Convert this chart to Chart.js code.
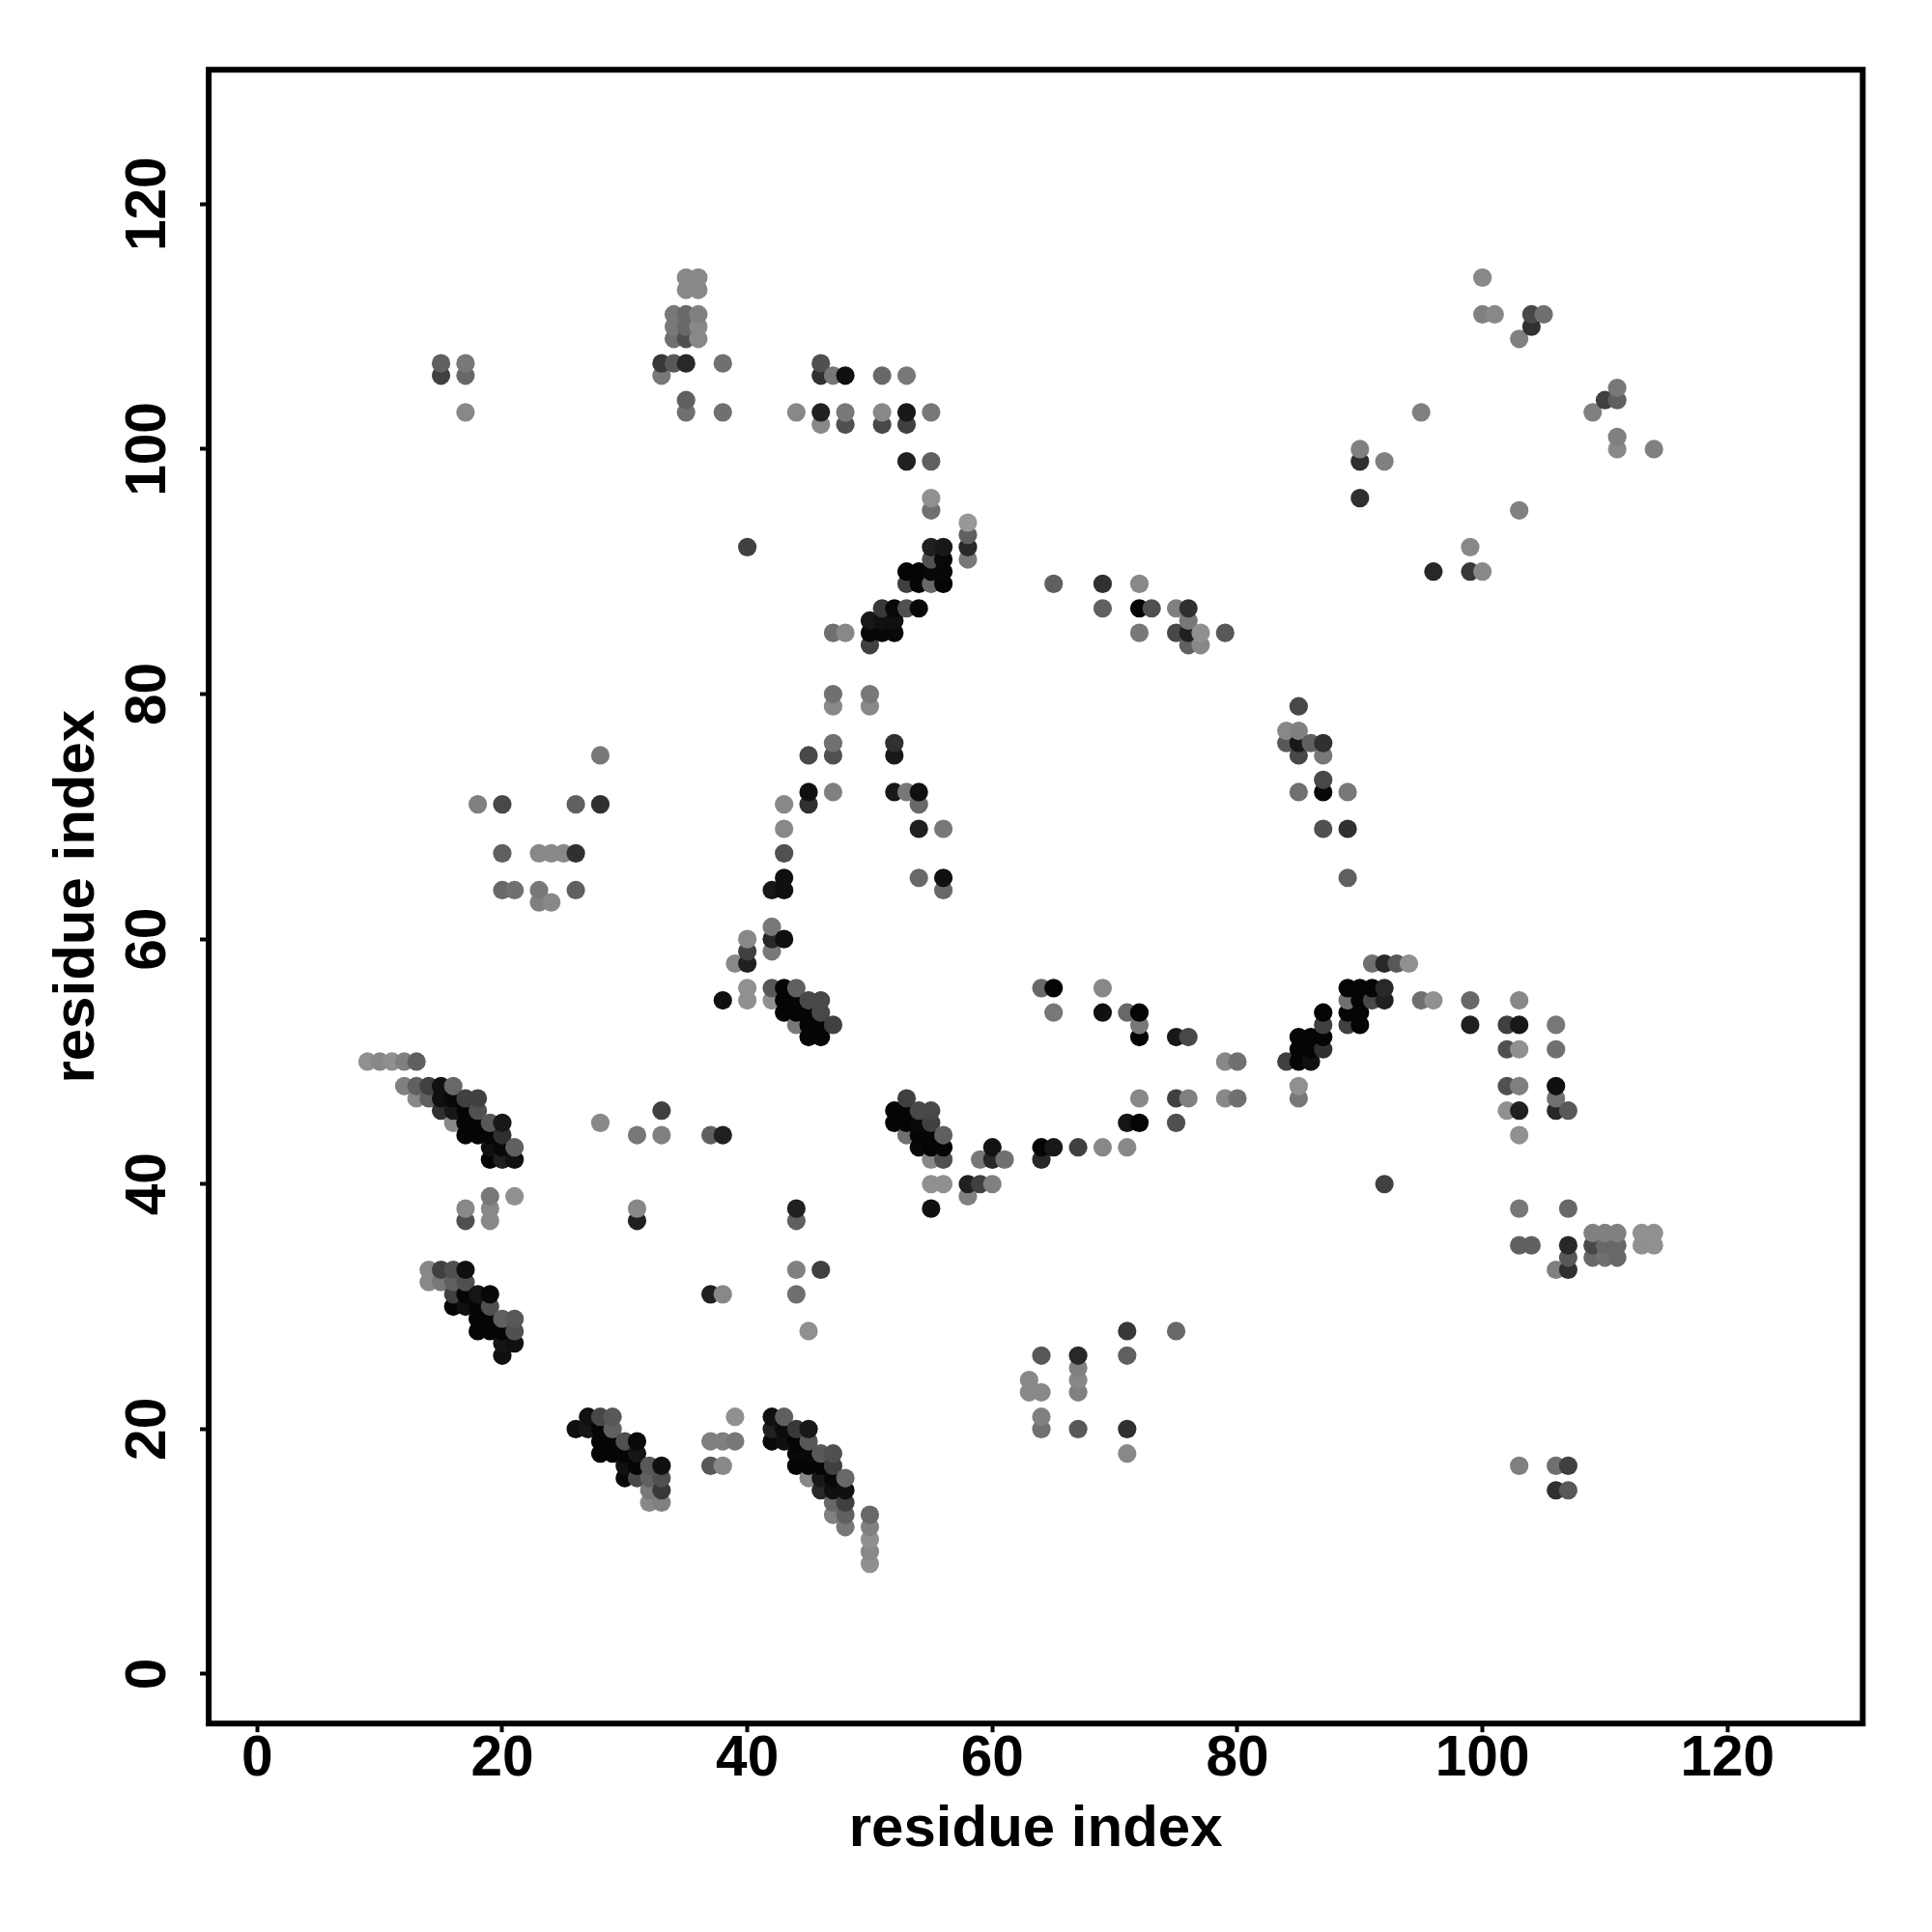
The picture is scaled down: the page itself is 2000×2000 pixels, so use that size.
<!DOCTYPE html>
<html>
<head>
<meta charset="utf-8">
<style>
  html, body { margin: 0; padding: 0; background: #fff; }
  canvas { display: block; }
</style>
<script src="https://cdn.jsdelivr.net/npm/chart.js@4/dist/chart.umd.js"></script>
</head>
<body>
<canvas id="contactMap" width="2000" height="2000"></canvas>
<script>
const tickValues = [0, 20, 40, 60, 80, 100, 120];
const axisTitle = 'residue index';

// one entry per row of the map: y index, the x indices on it, their grey level
const rowY = [114, 113, 111, 110, 109, 107, 106, 105, 104, 103, 102, 101, 100, 99, 96, 95, 94, 93, 92, 91, 90, 89, 87, 86, 85, 84, 80, 79, 77, 76, 75, 73, 72, 71, 69, 67, 65, 64, 63, 61, 60, 59, 58, 56, 55, 54, 53, 52, 51, 50, 48, 47, 46, 45, 44, 43, 42, 40, 39, 38, 37, 36, 35, 34, 33, 32, 31, 30, 29, 28, 27, 26, 25, 24, 23, 21, 20, 19, 18, 17, 16, 15, 14, 13, 12, 11, 10, 9];
const rowX = [
  [35, 36, 100],
  [35, 36],
  [34, 35, 36, 100, 101, 104, 105],
  [34, 35, 36, 104],
  [34, 35, 36, 103],
  [15, 17, 33, 34, 35, 38, 46],
  [15, 17, 33, 46, 47, 48, 51, 53],
  [111],
  [35, 110, 111],
  [17, 35, 38, 44, 46, 48, 51, 53, 55, 95, 109],
  [46, 48, 51, 53],
  [111],
  [90, 111, 114],
  [53, 55, 90, 92],
  [55, 90],
  [55, 103],
  [58],
  [58],
  [40, 55, 56, 58, 99],
  [55, 56, 58],
  [53, 54, 55, 56, 96, 99, 100],
  [53, 54, 55, 56, 65, 69, 72],
  [51, 52, 53, 54, 69, 72, 73, 75, 76],
  [50, 51, 52, 76],
  [47, 48, 50, 51, 52, 72, 75, 76, 77, 79],
  [50, 76, 77],
  [47, 50],
  [47, 50, 85],
  [84, 85],
  [47, 52, 84, 85, 86, 87],
  [28, 45, 47, 52, 85, 87],
  [87],
  [45, 47, 52, 53, 54, 85, 87, 89],
  [18, 20, 26, 28, 43, 45, 54],
  [43, 54, 56, 87, 89],
  [20, 23, 24, 25, 26, 43],
  [43, 54, 56, 89],
  [20, 21, 23, 26, 42, 43, 56],
  [23, 24],
  [42],
  [40, 42, 43],
  [40, 42],
  [39, 40, 91, 92, 93, 94],
  [40, 42, 43, 44, 64, 65, 69, 89, 90, 91, 92],
  [38, 40, 42, 43, 44, 45, 46, 89, 90, 91, 92, 95, 96, 99, 103],
  [43, 44, 45, 46, 65, 69, 71, 72, 87, 89, 90],
  [44, 45, 46, 47, 72, 87, 89, 90, 99, 102, 103, 106],
  [45, 46, 72, 75, 76, 85, 86, 87],
  [85, 86, 87, 102, 103, 106],
  [9, 10, 11, 12, 13, 79, 80, 84, 85, 86],
  [12, 13, 14, 15, 16, 85, 102, 103, 106],
  [13, 14, 15, 16, 17, 18, 53, 72, 75, 76, 79, 80, 85, 106],
  [15, 16, 17, 18, 33, 52, 53, 54, 55, 102, 103, 106, 107],
  [16, 17, 18, 19, 20, 28, 52, 53, 54, 55, 71, 72, 75],
  [17, 18, 19, 20, 31, 33, 37, 38, 53, 54, 55, 56, 103],
  [19, 20, 21, 54, 55, 56, 60, 64, 65, 67, 69, 71],
  [19, 20, 21, 55, 56, 59, 60, 61, 64],
  [55, 56, 58, 59, 60, 92],
  [19, 21, 58],
  [17, 19, 31, 44, 55, 103, 107],
  [17, 19, 31, 44],
  [109, 110, 111, 113, 114],
  [103, 104, 107, 109, 110, 111, 113, 114],
  [107, 109, 110, 111],
  [14, 15, 16, 17, 44, 46, 106, 107],
  [14, 15, 16, 17],
  [16, 17, 18, 19, 37, 38, 44],
  [16, 17, 18, 19],
  [18, 19, 20, 21],
  [18, 19, 20, 21, 45, 71, 75],
  [20, 21],
  [20, 64, 67, 71],
  [67],
  [63, 67],
  [63, 64, 67],
  [27, 28, 29, 39, 42, 43, 64],
  [26, 27, 28, 29, 42, 43, 44, 45, 64, 67, 71],
  [28, 29, 30, 31, 37, 38, 39, 42, 43, 44, 45],
  [28, 29, 30, 31, 44, 45, 46, 47, 71],
  [30, 31, 32, 33, 37, 38, 44, 45, 46, 47, 103, 106, 107],
  [30, 31, 32, 33, 45, 46, 47, 48],
  [32, 33, 46, 47, 48, 106, 107],
  [32, 33, 47, 48],
  [47, 48, 50],
  [48, 50],
  [50],
  [50],
  [50]
];
const rowGrey = [
  [136, 136, 136],
  [136, 136],
  [120, 104, 128, 128, 136, 72, 112],
  [120, 104, 136, 48],
  [112, 80, 136, 128],
  [96, 120, 56, 88, 40, 112, 80],
  [64, 104, 120, 48, 120, 16, 104, 120],
  [120],
  [96, 64, 96],
  [136, 112, 112, 136, 32, 120, 136, 24, 120, 128, 128],
  [136, 80, 72, 64],
  [128],
  [128, 136, 128],
  [32, 96, 48, 128],
  [144, 48],
  [112, 128],
  [152],
  [96],
  [64, 32, 24, 40, 136],
  [80, 8, 120],
  [5, 5, 8, 8, 40, 56, 136],
  [64, 5, 104, 5, 96, 48, 136],
  [56, 8, 80, 8, 96, 5, 80, 128, 48],
  [24, 16, 16, 120],
  [112, 136, 8, 8, 8, 120, 72, 32, 144, 88],
  [64, 96, 136],
  [112, 120],
  [136, 136, 72],
  [136, 128],
  [112, 48, 88, 24, 96, 48],
  [120, 72, 80, 24, 72, 120],
  [72],
  [16, 128, 24, 120, 16, 112, 8, 120],
  [128, 72, 96, 48, 136, 48, 104],
  [136, 32, 120, 80, 48],
  [96, 136, 136, 136, 48, 80],
  [16, 104, 16, 96],
  [104, 112, 120, 96, 24, 16, 104],
  [128, 136],
  [120],
  [136, 40, 16],
  [64, 120],
  [136, 32, 112, 40, 88, 144],
  [144, 88, 5, 96, 104, 5, 136, 5, 5, 5, 40],
  [16, 144, 144, 5, 5, 72, 72, 112, 5, 72, 32, 112, 144, 104, 136],
  [5, 5, 5, 72, 120, 16, 104, 5, 5, 5, 5],
  [120, 5, 5, 64, 120, 64, 64, 5, 32, 64, 24, 120],
  [5, 5, 5, 24, 72, 5, 5, 5],
  [5, 5, 48, 80, 144, 112],
  [144, 136, 144, 128, 96, 136, 112, 64, 5, 16],
  [128, 96, 64, 16, 104, 144, 80, 128, 16],
  [136, 96, 16, 8, 64, 64, 64, 136, 64, 128, 136, 112, 120, 112],
  [48, 24, 5, 80, 64, 5, 5, 72, 72, 144, 32, 40, 88],
  [136, 5, 5, 88, 24, 136, 5, 5, 8, 64, 21, 5, 80],
  [5, 5, 5, 48, 120, 128, 96, 32, 112, 5, 5, 96, 144],
  [16, 8, 96, 8, 5, 5, 18, 5, 24, 64, 136, 136],
  [5, 32, 16, 136, 80, 120, 40, 112, 40],
  [144, 144, 32, 64, 128, 64],
  [120, 144, 128],
  [136, 136, 136, 32, 16, 120, 104],
  [80, 136, 32, 96],
  [128, 128, 128, 144, 144],
  [96, 96, 40, 72, 104, 104, 144, 144],
  [88, 104, 112, 104],
  [136, 64, 80, 16, 128, 64, 128, 48],
  [136, 120, 96, 80],
  [64, 5, 21, 8, 32, 136, 112],
  [5, 16, 5, 80],
  [5, 5, 96, 88],
  [5, 5, 5, 80, 144, 56, 104],
  [21, 16],
  [16, 88, 40, 96],
  [128],
  [136, 136],
  [136, 136, 128],
  [16, 72, 88, 144, 16, 96, 128],
  [16, 24, 5, 96, 32, 12, 56, 24, 112, 88, 48],
  [5, 5, 80, 8, 128, 128, 120, 8, 16, 5, 88],
  [5, 5, 5, 21, 8, 8, 88, 80, 136],
  [16, 5, 88, 16, 88, 136, 5, 5, 5, 64, 128, 112, 64],
  [8, 72, 96, 80, 136, 24, 8, 104],
  [120, 56, 40, 16, 16, 48, 88],
  [136, 128, 104, 64],
  [128, 96, 104],
  [120, 128],
  [144],
  [136],
  [144]
];

// later residues are painted over earlier ones
const contacts = [];
rowY.forEach(function (y, r) {
  rowX[r].forEach(function (x, k) {
    contacts.push({ x: x, y: y, grey: rowGrey[r][k] });
  });
});
contacts.sort(function (a, b) { return a.x - b.x || a.y - b.y; });

const tickFont = { family: '"Liberation Sans"', size: 58.5, weight: 'bold' };
const titleFont = { family: '"Liberation Sans"', size: 60, weight: 'bold' };

const framePlugin = {
  id: 'frame',
  afterDatasetsDraw: function (chart) {
    const a = chart.chartArea;
    const ctx = chart.ctx;
    ctx.save();
    ctx.strokeStyle = '#000';
    ctx.lineWidth = 6;
    ctx.strokeRect(a.left, a.top, a.right - a.left, a.bottom - a.top);
    ctx.restore();
  }
};

function useTickValues(axis) {
  axis.ticks = tickValues.map(function (v) { return { value: v }; });
}

new Chart(document.getElementById('contactMap'), {
  type: 'scatter',
  data: {
    datasets: [{
      data: contacts,
      pointRadius: 9.6,
      pointHoverRadius: 9.6,
      pointBorderWidth: 0,
      pointBackgroundColor: contacts.map(function (c) {
        return 'rgb(' + c.grey + ',' + c.grey + ',' + c.grey + ')';
      })
    }]
  },
  options: {
    responsive: false,
    animation: false,
    layout: { padding: { top: 72.2, right: 71.7, left: 0, bottom: 0 } },
    plugins: { legend: { display: false }, tooltip: { enabled: false } },
    scales: {
      x: {
        type: 'linear',
        min: -3.966,
        max: 131.04,
        afterFit: function (axis) { axis.height = 215.8; },
        afterBuildTicks: useTickValues,
        border: { display: false },
        grid: { drawOnChartArea: false, drawTicks: true, tickLength: 9, tickWidth: 4, color: '#000' },
        ticks: { color: '#000', font: tickFont, padding: -6, maxRotation: 0, autoSkip: false },
        title: { display: true, text: axisTitle, color: '#000', font: titleFont, padding: { top: 0, bottom: 70 } }
      },
      y: {
        type: 'linear',
        min: -4.04,
        max: 130.97,
        afterFit: function (axis) { axis.width = 216; },
        afterBuildTicks: useTickValues,
        border: { display: false },
        grid: { drawOnChartArea: false, drawTicks: true, tickLength: 9, tickWidth: 4, color: '#000' },
        ticks: { color: '#000', font: tickFont, padding: 3, minRotation: 90, maxRotation: 90, crossAlign: 'center', autoSkip: false },
        title: { display: true, text: axisTitle, color: '#000', font: titleFont, padding: { top: 44, bottom: 0 } }
      }
    }
  },
  plugins: [framePlugin]
});
</script>
</body>
</html>
